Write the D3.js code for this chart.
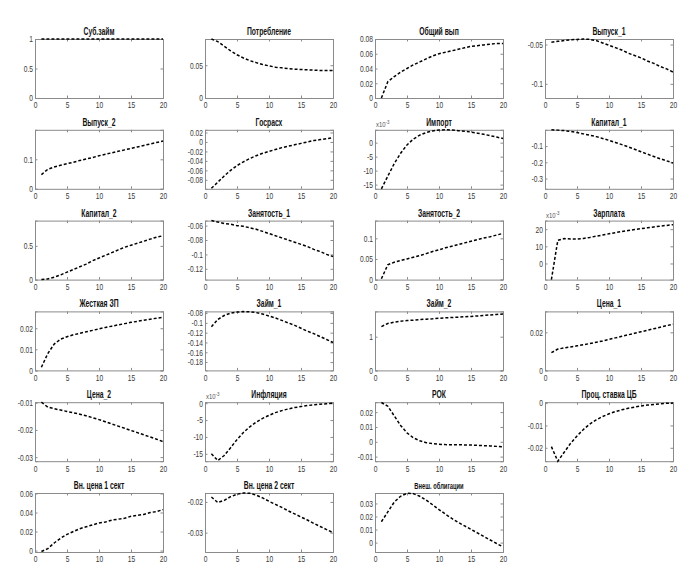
<!DOCTYPE html>
<html>
<head>
<meta charset="utf-8">
<script src="https://cdn.jsdelivr.net/npm/d3@7"></script>
<style>
  body { margin: 0; background: #fff; }
  svg { display: block; }
  text { font-family: "Liberation Sans", Arial, sans-serif; }
</style>
</head>
<body>
<svg id="chart" width="698" height="576"></svg>
<script>
// ---------- data ----------
const periods = d3.range(1, 21);
const xTicks = [0, 5, 10, 15, 20];

const titles = ["Суб.займ", "Потребление", "Общий вып", "Выпуск_1",
  "Выпуск_2", "Госрасх", "Импорт", "Капитал_1",
  "Капитал_2", "Занятость_1", "Занятость_2", "Зарплата",
  "Жесткая ЗП", "Займ_1", "Займ_2", "Цена_1",
  "Цена_2", "Инфляция", "РОК", "Проц. ставка ЦБ",
  "Вн. цена 1 сект", "Вн. цена 2 сект", "Внеш. облигации"];

const subZaim = [1,1,1,1,1,1,1,1,1,1,1,1,1,1,1,1,1,1,1,1];
const potreblenie = [0.09,0.086,0.079,0.072,0.066,0.061,0.057,0.054,0.051,0.049,0.047,0.046,0.045,0.044,0.0435,0.043,0.0425,0.042,0.042,0.042];
const obshchiyVyp = [0,0.022,0.029,0.035,0.040,0.045,0.049,0.053,0.057,0.060,0.062,0.064,0.066,0.068,0.070,0.071,0.072,0.073,0.074,0.074];
const vypusk1 = [-0.047,-0.046,-0.045,-0.044,-0.0435,-0.043,-0.0435,-0.045,-0.048,-0.051,-0.054,-0.057,-0.061,-0.064,-0.067,-0.071,-0.074,-0.078,-0.081,-0.085];
const vypusk2 = [0.048,0.066,0.074,0.080,0.085,0.090,0.096,0.101,0.106,0.112,0.117,0.122,0.127,0.132,0.137,0.142,0.147,0.152,0.157,0.162];
const gosrash = [-0.098,-0.085,-0.072,-0.060,-0.050,-0.042,-0.035,-0.029,-0.024,-0.020,-0.016,-0.012,-0.009,-0.006,-0.003,0.000,0.003,0.005,0.007,0.009];
const import_e3 = [-16.5,-12,-7.5,-3.8,-0.8,1.3,2.7,3.6,4.2,4.5,4.6,4.5,4.3,4.1,3.8,3.4,3.0,2.5,2.0,1.5];
const kapital1 = [0,-0.002,-0.005,-0.010,-0.017,-0.025,-0.033,-0.042,-0.053,-0.065,-0.078,-0.091,-0.105,-0.120,-0.135,-0.150,-0.164,-0.178,-0.191,-0.204];
const kapital2 = [0,0.01,0.035,0.07,0.11,0.15,0.19,0.23,0.28,0.32,0.36,0.40,0.44,0.48,0.51,0.54,0.57,0.60,0.63,0.65];
const zanyatost1 = [-0.053,-0.055,-0.057,-0.058,-0.060,-0.061,-0.063,-0.065,-0.068,-0.071,-0.074,-0.077,-0.080,-0.083,-0.086,-0.089,-0.093,-0.096,-0.100,-0.103];
const zanyatost2 = [0.002,0.036,0.042,0.046,0.050,0.054,0.058,0.063,0.068,0.072,0.077,0.081,0.085,0.089,0.093,0.097,0.101,0.104,0.108,0.112];
const zarplata_e3 = [-9.4,13.5,14.5,14.3,14.2,14.6,15.2,15.9,16.6,17.3,18.0,18.6,19.2,19.8,20.3,20.8,21.3,21.8,22.2,22.6];
const zhestkayaZP = [0.0015,0.008,0.0125,0.0148,0.016,0.0169,0.0176,0.0183,0.019,0.0197,0.0204,0.021,0.0216,0.0222,0.0228,0.0233,0.0238,0.0243,0.0248,0.0252];
const zaim1 = [-0.108,-0.093,-0.085,-0.080,-0.078,-0.077,-0.0775,-0.079,-0.082,-0.086,-0.090,-0.095,-0.100,-0.105,-0.111,-0.117,-0.122,-0.128,-0.134,-0.140];
const zaim2 = [1.30,1.39,1.43,1.46,1.48,1.49,1.51,1.52,1.53,1.545,1.56,1.57,1.58,1.59,1.60,1.615,1.63,1.645,1.66,1.675];
const tsena1 = [0.0093,0.0112,0.0118,0.0123,0.0129,0.0135,0.0141,0.0148,0.0155,0.0163,0.0171,0.0179,0.0187,0.0195,0.0203,0.0211,0.0219,0.0227,0.0235,0.0243];
const tsena2 = [-0.0098,-0.0116,-0.0122,-0.0127,-0.0132,-0.0137,-0.0142,-0.0148,-0.0155,-0.0162,-0.017,-0.0178,-0.0186,-0.0194,-0.0202,-0.021,-0.0218,-0.0226,-0.0234,-0.0243];
const inflyatsiya_e3 = [-15,-17,-15.5,-13.2,-10.8,-8.7,-7.0,-5.6,-4.5,-3.6,-2.8,-2.2,-1.7,-1.3,-1.0,-0.7,-0.5,-0.3,-0.15,0];
const rok = [0.0265,0.024,0.0175,0.011,0.006,0.0027,0.0007,-0.0006,-0.0013,-0.0017,-0.0019,-0.002,-0.002,-0.0021,-0.0022,-0.0024,-0.0026,-0.0028,-0.0031,-0.0034];
const stavkaCB = [-0.0195,-0.026,-0.022,-0.018,-0.0147,-0.0118,-0.0094,-0.0075,-0.006,-0.0048,-0.0038,-0.003,-0.0023,-0.0018,-0.0013,-0.0009,-0.0006,-0.0003,-0.0001,0];
const vnTsena1 = [-0.001,0.002,0.008,0.013,0.017,0.020,0.023,0.025,0.027,0.029,0.030,0.032,0.033,0.034,0.036,0.037,0.038,0.040,0.041,0.043];
const vnTsena2 = [-0.0184,-0.0202,-0.0195,-0.0183,-0.0175,-0.0171,-0.0172,-0.0178,-0.0187,-0.0198,-0.0208,-0.0218,-0.0229,-0.0239,-0.0249,-0.0259,-0.0270,-0.0280,-0.0290,-0.030];
const vneshObligatsii = [0.016,0.0235,0.031,0.0355,0.0378,0.0375,0.0355,0.0325,0.029,0.0253,0.0218,0.0185,0.0155,0.0128,0.0102,0.0074,0.0047,0.002,-0.0007,-0.0033];

const seriesList = [subZaim, potreblenie, obshchiyVyp, vypusk1, vypusk2, gosrash, import_e3, kapital1,
  kapital2, zanyatost1, zanyatost2, zarplata_e3, zhestkayaZP, zaim1, zaim2, tsena1,
  tsena2, inflyatsiya_e3, rok, stavkaCB, vnTsena1, vnTsena2, vneshObligatsii];

const yDomains = [[0,1],[0,0.09],[0,0.08],[-0.118,-0.043],
  [0,0.2],[-0.099,0.0257],[-16.5,4.6],[-0.363,0],
  [0,0.875],[-0.135,-0.053],[0,0.143],[-9.4,25],
  [0,0.028],[-0.197,-0.0766],[0,1.75],[0,0.031],
  [-0.0315,-0.0098],[-17.2,0.3],[-0.0131,0.0267],[-0.026,0.0004],
  [-0.0015,0.0605],[-0.0363,-0.0171],[-0.0072,0.038]];

const yTicks = [[0,0.5,1],[0,0.05],[0,0.02,0.04,0.06,0.08],[-0.1,-0.05],
  [0,0.1],[-0.08,-0.06,-0.04,-0.02,0,0.02],[-15,-10,-5,0],[-0.3,-0.2,-0.1],
  [0,0.5],[-0.12,-0.1,-0.08,-0.06],[0,0.05,0.1],[0,10,20],
  [0,0.01,0.02],[-0.18,-0.16,-0.14,-0.12,-0.1,-0.08],[0,1],[0,0.02],
  [-0.03,-0.02,-0.01],[-15,-10,-5,0],[-0.01,0,0.01,0.02],[-0.02,-0.01,0],
  [0,0.02,0.04,0.06],[-0.03,-0.02],[0,0.01,0.02,0.03]];

const exponentPanels = ["Импорт", "Зарплата", "Инфляция"];

// ---------- layout ----------
const svg = d3.select("#chart");
const plotW = 128, plotH = 59;
const colLeft = c => 35 + c * 170;
const rowTop = r => 39 + r * 90.8;
const tickScale = 0.74, titleScale = 0.68;

const fmt = v => String(+v.toFixed(4));

// compress text horizontally (narrow font look) around its anchor point
function narrow(sel, s) {
  sel.each(function() {
    const t = d3.select(this);
    const x = +t.attr("x") || 0;
    t.attr("x", 0).attr("transform", `translate(${x},0) scale(${s},1)`);
  });
}

seriesList.forEach((vals, i) => {
  const c = i % 4, r = Math.floor(i / 4);
  const g = svg.append("g").attr("transform", `translate(${colLeft(c)},${rowTop(r)})`);
  const x = d3.scaleLinear().domain([0, 20]).range([0, plotW]);
  const y = d3.scaleLinear().domain(yDomains[i]).range([plotH, 0]);

  // axes (MATLAB style: inward ticks on all four sides)
  const xb = g.append("g").attr("transform", `translate(0,${plotH})`)
    .call(d3.axisBottom(x).tickValues(xTicks).tickSize(-2.5).tickPadding(4).tickFormat(fmt));
  const xt = g.append("g")
    .call(d3.axisTop(x).tickValues(xTicks).tickSize(-2.5).tickFormat(""));
  const yl = g.append("g")
    .call(d3.axisLeft(y).tickValues(yTicks[i]).tickSize(-2.5).tickPadding(2).tickFormat(fmt));
  const yr = g.append("g").attr("transform", `translate(${plotW},0)`)
    .call(d3.axisRight(y).tickValues(yTicks[i]).tickSize(-2.5).tickFormat(""));
  [xb, xt, yl, yr].forEach(a => {
    a.select(".domain").attr("stroke", "#8a8a8a").attr("stroke-width", 1);
    a.selectAll(".tick line").attr("stroke", "#8a8a8a");
    a.selectAll("text").attr("fill", "#3a3a3a").attr("font-size", 9);
  });
  narrow(xb.selectAll(".tick text"), tickScale);
  narrow(yl.selectAll(".tick text"), tickScale);

  // line
  const line = d3.line().x((d, k) => x(periods[k])).y(d => y(d));
  g.append("path").datum(vals)
    .attr("d", line)
    .attr("fill", "none")
    .attr("stroke", "#000")
    .attr("stroke-width", 1.5)
    .attr("stroke-dasharray", "3,2");

  // title
  g.append("text")
    .attr("x", 0).attr("y", 0)
    .attr("transform", `translate(${plotW / 2},-4) scale(${titleScale},1)`)
    .attr("text-anchor", "middle")
    .attr("font-weight", "bold")
    .attr("font-size", i === 22 ? 8.5 : 10)
    .attr("fill", "#111")
    .text(titles[i]);

  // exponent label
  if (exponentPanels.includes(titles[i])) {
    const t = g.append("text").attr("x", 0).attr("y", 0)
      .attr("transform", `translate(1,-3) scale(${tickScale},1)`)
      .attr("font-size", 8).attr("fill", "#555");
    t.append("tspan").text("x10");
    t.append("tspan").attr("dy", -3).attr("font-size", 6).text("-3");
  }
});
</script>
</body>
</html>
